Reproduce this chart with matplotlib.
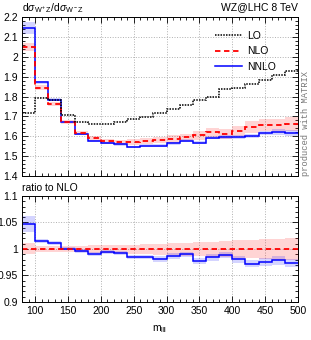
import numpy as np
import matplotlib
matplotlib.use('Agg')
import matplotlib.pyplot as plt
from matplotlib.lines import Line2D
from matplotlib.ticker import MultipleLocator, FuncFormatter

plt.rcParams['font.family'] = ['Liberation Sans', 'DejaVu Sans']
plt.rcParams['mathtext.fontset'] = 'custom'
plt.rcParams['mathtext.rm'] = 'Liberation Sans'
plt.rcParams['mathtext.it'] = 'Liberation Sans:italic'
plt.rcParams['font.size'] = 7

# bin edges in m_lll [GeV]
edges = [80, 100, 120, 140, 160, 180, 200, 220, 240, 260, 280, 300,
         320, 340, 360, 380, 400, 420, 440, 460, 480, 500]

lo = [1.716, 1.795, 1.785, 1.707, 1.674, 1.661, 1.661, 1.672, 1.686, 1.699, 1.716,
      1.735, 1.756, 1.781, 1.798, 1.837, 1.842, 1.863, 1.883, 1.907, 1.929]
nlo = [2.048, 1.845, 1.764, 1.672, 1.617, 1.590, 1.575, 1.570, 1.572, 1.576, 1.582,
       1.587, 1.595, 1.605, 1.620, 1.614, 1.628, 1.648, 1.658, 1.658, 1.662]
nnlo = [2.145, 1.872, 1.784, 1.673, 1.611, 1.575, 1.566, 1.559, 1.547, 1.553, 1.552,
        1.566, 1.579, 1.569, 1.594, 1.596, 1.596, 1.602, 1.617, 1.622, 1.617]

# relative scale uncertainties (in %)
nlo_up = [1.1, 0.6, 0.6, 0.6, 0.6, 0.7, 0.7, 0.8, 0.8, 0.9, 1.0,
          1.1, 1.2, 1.3, 1.4, 1.5, 1.6, 1.7, 1.8, 1.9, 2.0]
nlo_dn = [1.0, 0.6, 0.6, 0.6, 0.6, 0.7, 0.7, 0.8, 0.9, 1.0, 1.1,
          1.2, 1.3, 1.4, 1.5, 1.6, 1.7, 1.8, 1.9, 2.0, 2.1]
nnlo_up = [1.5, 0.4, 0.4, 0.3, 0.3, 0.3, 0.3, 0.4, 0.4, 0.4, 0.5,
           0.5, 0.5, 0.6, 0.6, 0.6, 0.7, 0.7, 0.7, 0.8, 0.8]
nnlo_dn = [1.5, 0.4, 0.4, 0.3, 0.3, 0.3, 0.3, 0.4, 0.4, 0.4, 0.5,
           0.5, 0.5, 0.6, 0.6, 0.6, 0.7, 0.7, 0.7, 0.8, 0.8]

edges = np.array(edges)
lo, nlo, nnlo = np.array(lo), np.array(nlo), np.array(nnlo)
nlo_up, nlo_dn = np.array(nlo_up) / 100, np.array(nlo_dn) / 100
nnlo_up, nnlo_dn = np.array(nnlo_up) / 100, np.array(nnlo_dn) / 100

red = '#ff0000'
blue = '#0000ff'

fig = plt.figure(figsize=(3.11, 3.40), dpi=100)
ax = fig.add_axes([0.0707, 0.482, 0.8875, 0.468])
axr = fig.add_axes([0.0707, 0.112, 0.8875, 0.3115])

# main panel
ax.stairs(nlo * (1 + nlo_up), edges, baseline=nlo * (1 - nlo_dn), fill=True,
          color=red, alpha=0.17, lw=0)
ax.stairs(nnlo * (1 + nnlo_up), edges, baseline=nnlo * (1 - nnlo_dn), fill=True,
          color=blue, alpha=0.17, lw=0)
ax.stairs(nnlo, edges, color=blue, lw=1.1, baseline=None)
ax.stairs(nlo, edges, color=red, lw=1.3, ls=(0, (3, 2)), baseline=None)
ax.stairs(lo, edges, color='black', lw=1.1, ls=(0, (1, 0.8)), baseline=None)

ax.set_xlim(80, 500)
ax.set_ylim(1.4, 2.2)
ax.yaxis.set_major_locator(MultipleLocator(0.1))
ax.yaxis.set_minor_locator(MultipleLocator(0.02))

handles = [Line2D([], [], color='black', lw=1.1, ls=(0, (1, 0.8))),
           Line2D([], [], color=red, lw=1.3, ls=(0, (3, 2))),
           Line2D([], [], color=blue, lw=1.1)]
ax.legend(handles, ['LO', 'NLO', 'NNLO'], loc='upper right', frameon=False,
          fontsize=7.5, handlelength=2.6, handletextpad=0.5, labelspacing=0.55,
          borderaxespad=0.9, bbox_to_anchor=(0.97, 1.0))

ax.text(0.0, 1.012, r'd$\sigma_{\mathrm{W^+Z}}$/d$\sigma_{\mathrm{W^-Z}}$',
        transform=ax.transAxes, ha='left', va='bottom', fontsize=7.5)
ax.text(1.0, 1.03, 'WZ@LHC 8 TeV', transform=ax.transAxes, ha='right',
        va='bottom', fontsize=7.5)
ax.text(1.012, 0.0, 'produced with MATRIX', transform=ax.transAxes, rotation=90,
        ha='left', va='bottom', fontsize=6.3, color='#777777',
        family='Liberation Mono')

# ratio panel
axr.stairs(1 + nlo_up, edges, baseline=1 - nlo_dn, fill=True,
           color=red, alpha=0.17, lw=0)
axr.stairs(nnlo * (1 + nnlo_up) / nlo, edges, baseline=nnlo * (1 - nnlo_dn) / nlo,
           fill=True, color=blue, alpha=0.17, lw=0)
axr.stairs(nnlo / nlo, edges, color=blue, lw=1.1, baseline=None)
axr.stairs(nlo / nlo, edges, color=red, lw=1.3, ls=(0, (3, 2)), baseline=None)

axr.set_xlim(80, 500)
axr.set_ylim(0.9, 1.1)
axr.yaxis.set_major_locator(MultipleLocator(0.05))
axr.yaxis.set_minor_locator(MultipleLocator(0.01))
axr.text(0.0, 1.03, 'ratio to NLO', transform=axr.transAxes, ha='left',
         va='bottom', fontsize=7.5)
axr.set_xlabel(r'm$_{\mathrm{lll}}$', fontsize=7.5, labelpad=5)

fmt = FuncFormatter(lambda v, p: '%g' % round(v, 3))
for a in (ax, axr):
    a.yaxis.set_major_formatter(fmt)
    a.xaxis.set_major_locator(MultipleLocator(50))
    a.xaxis.set_minor_locator(MultipleLocator(10))
    a.tick_params(which='both', direction='in', top=True, right=True,
                  labelsize=7.5, width=0.6)
    a.tick_params(which='major', length=4, pad=3)
    a.tick_params(which='minor', length=2)
    a.grid(True, which='major', ls=':', color='#b0b0b0', lw=0.7)
    a.set_axisbelow(True)
    for s in a.spines.values():
        s.set_linewidth(0.7)
ax.tick_params(labelbottom=False)

fig.savefig('out.png', dpi=100)
